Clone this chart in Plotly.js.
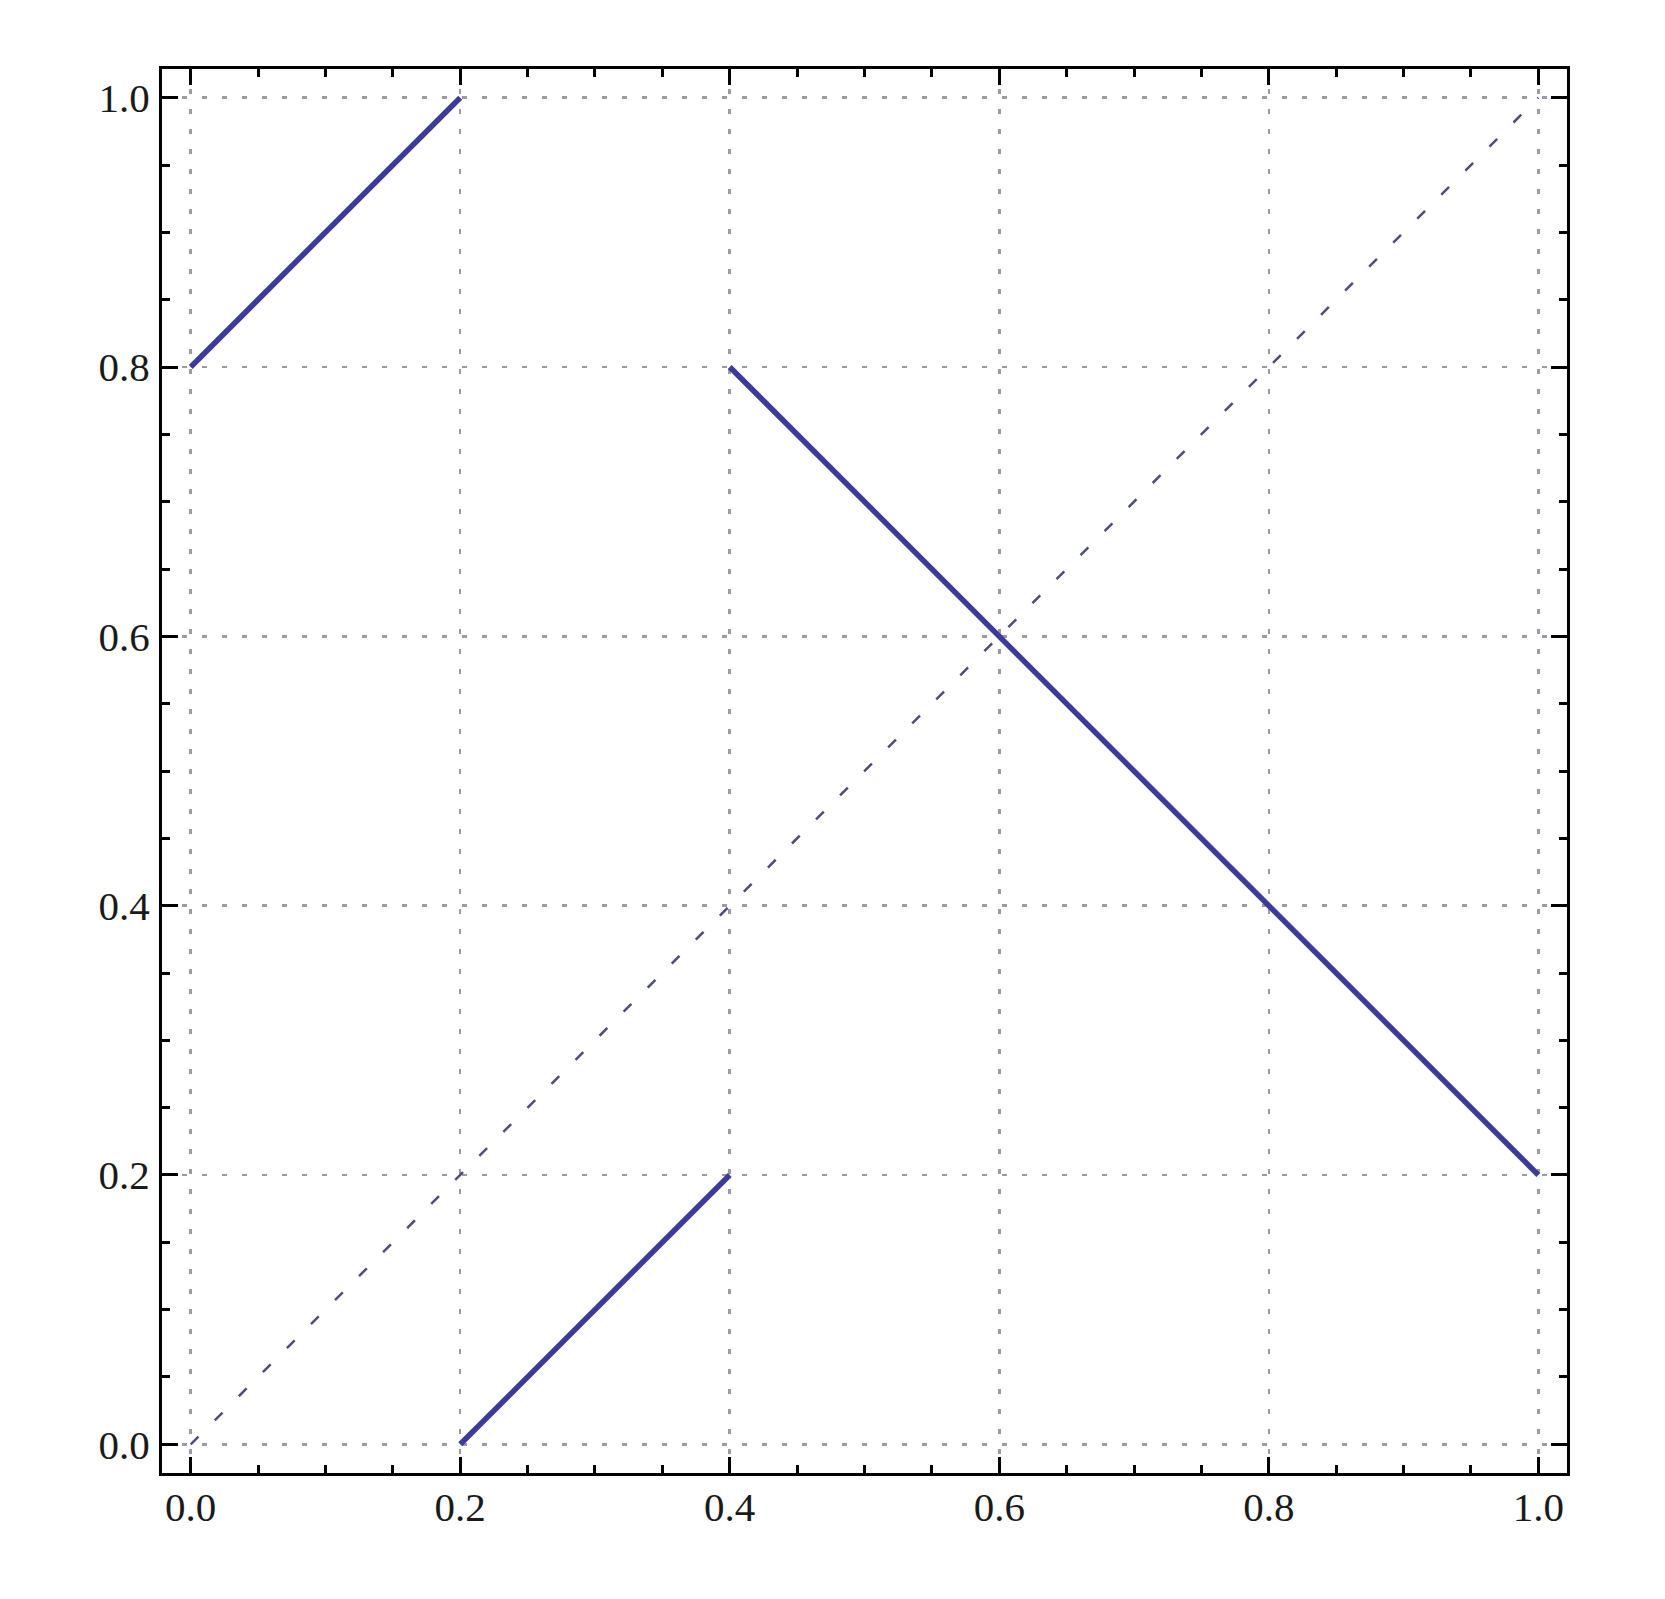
<!DOCTYPE html>
<html>
<head>
<meta charset="utf-8">
<script src="https://cdn.plot.ly/plotly-3.0.1.min.js"></script>
<style>html,body{margin:0;padding:0;background:#fff;}#chart{width:1665px;height:1599px;}</style>
</head>
<body>
<div id="chart"></div>
<script>
// Piecewise map segments (x, y)
const seg1X = [0.0, 0.2];
const seg1Y = [0.8, 1.0];
const seg2X = [0.2, 0.4];
const seg2Y = [0.0, 0.2];
const seg3X = [0.4, 1.0];
const seg3Y = [0.8, 0.2];
// Identity line
const diagX = [0.0, 1.0];
const diagY = [0.0, 1.0];
// Ticks
const tickVals = [0.0, 0.2, 0.4, 0.6, 0.8, 1.0];
const tickText = ["0.0", "0.2", "0.4", "0.6", "0.8", "1.0"];

const lineColor = '#3b3b9c';
const traces = [
  {x: diagX, y: diagY, mode: 'lines', line: {color: '#4e4e72', width: 2.5, dash: '11px,23px'}, hoverinfo: 'skip'},
  {x: seg1X, y: seg1Y, mode: 'lines', line: {color: lineColor, width: 5.5}},
  {x: seg2X, y: seg2Y, mode: 'lines', line: {color: lineColor, width: 5.5}},
  {x: seg3X, y: seg3Y, mode: 'lines', line: {color: lineColor, width: 5.5}}
];

function axis() {
  return {
    range: [-0.0213, 1.0213],
    tickmode: 'array',
    tickvals: tickVals,
    ticktext: tickText,
    ticks: 'inside',
    ticklen: 16,
    tickwidth: 3,
    tickcolor: '#000',
    showline: true,
    linecolor: '#000',
    linewidth: 3,
    mirror: 'allticks',
    showgrid: true,
    gridcolor: '#9d98a2',
    gridwidth: 2.5,
    griddash: '5px,15px',
    zeroline: false,
    tickfont: {family: 'Liberation Serif, Times New Roman, serif', size: 41, color: '#1a1a1a'},
    minor: {dtick: 0.05, tick0: 0, ticks: 'inside', ticklen: 8, tickwidth: 3, tickcolor: '#000', showgrid: false},
    fixedrange: true
  };
}

const xa = axis();
xa.ticklabelstandoff = -4;
const ya = axis();
ya.ticklabelstandoff = 1;

const layout = {
  width: 1665,
  height: 1599,
  margin: {l: 162, r: 98, t: 69, b: 126},
  showlegend: false,
  paper_bgcolor: '#fff',
  plot_bgcolor: '#fff',
  xaxis: xa,
  yaxis: ya
};

Plotly.newPlot('chart', traces, layout, {displayModeBar: false, staticPlot: true});
</script>
</body>
</html>
